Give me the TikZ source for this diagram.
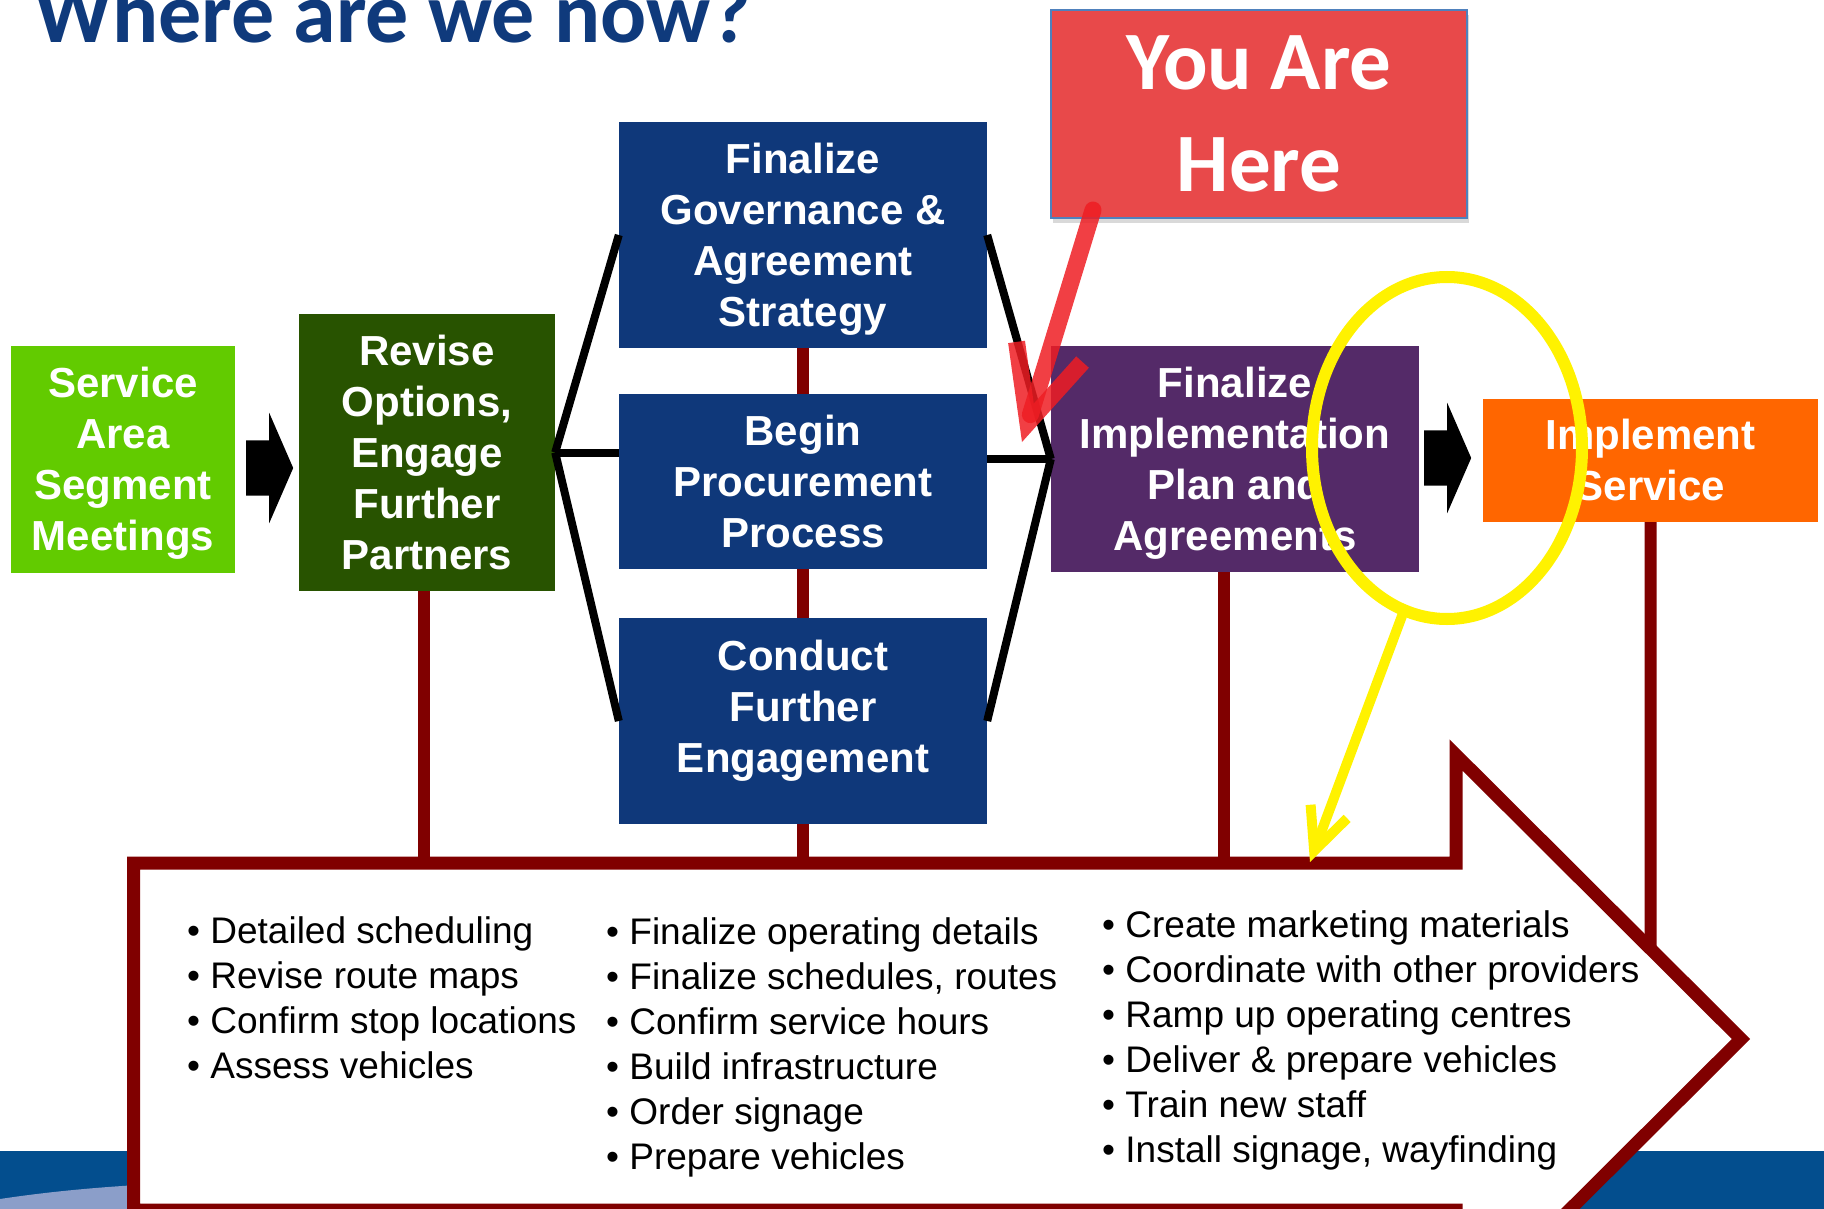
\documentclass[tikz,border=0pt]{standalone}
\usepackage{fontspec}
\setmainfont{Liberation Sans}
\newfontfamily\calfont{Carlito}
\definecolor{titleBlue}{HTML}{0F3A7C}
\definecolor{svcGreen}{HTML}{62CB00}
\definecolor{revGreen}{HTML}{285300}
\definecolor{govNavy}{HTML}{0F387A}
\definecolor{implPurple}{HTML}{542A68}
\definecolor{runOrange}{HTML}{FF6600}
\definecolor{hereRed}{HTML}{E8494A}
\definecolor{hereEdge}{HTML}{4F81BD}
\definecolor{markRed}{HTML}{EE1D23}
\definecolor{trunkRed}{HTML}{800000}
\definecolor{bandBlue}{HTML}{034E8E}
\definecolor{bandLight}{HTML}{8B9EC9}
\usetikzlibrary{arrows.meta,shapes.geometric,shapes.arrows,shadows}

\begin{document}
\begin{tikzpicture}[x=1pt,y=-1pt,
  stage/.style={rectangle,inner sep=0pt,text=white,align=center,text depth=1pt,font=\fontsize{42}{51}\selectfont\bfseries},
  push/.style={single arrow,fill=black,inner xsep=0pt,inner ysep=27.5pt,anchor=tail,minimum height=47pt,
    single arrow head extend=27.5pt,single arrow tip angle=133},
  link/.style={black,line width=8pt},
  trunk/.style={trunkRed,line width=12pt},
  item/.style={anchor=base west,inner sep=0pt,font=\fontsize{37}{45}\selectfont},
  cue/.style={markRed,opacity=.85,line width=17pt,line cap=round,-{Straight Barb[length=74pt,width=69pt]}},
  pointer/.style={yellow,line width=10pt,line cap=round,-{Straight Barb[length=42pt,width=39pt]}}]
  \useasboundingbox (0,0) rectangle (1824,1209);
  % footer band
  \fill[bandBlue] (0,1151) rectangle (1824,1209);
  \fill[bandLight] (0,1199) .. controls (60,1190) and (120,1185) .. (200,1182) -- (200,1209) -- (0,1209) -- cycle;
  % big arrow with the task lists
  \coordinate (shaft) at (0,863);
  \coordinate (notch) at (1456,755);
  \coordinate (point) at (1741,1039);
  \draw[trunkRed,line width=13pt,fill=white] (133.5,863) -- (1456,863) -- (notch) -- (point) -- (1456,1323) -- (1456,1210) -- (133.5,1210) -- cycle;
  % stages
  \node[stage,fill=svcGreen,minimum width=224pt,minimum height=227pt] (svc) at (123,459.5) {Service\\Area\\Segment\\Meetings};
  \node[stage,fill=revGreen,minimum width=256pt,minimum height=277pt] (rev) at (427,452.5) {Revise\\Options,\\Engage\\Further\\Partners};
  \node[stage,fill=govNavy,minimum width=368pt,minimum height=226pt] (gov) at (803,235) {Finalize\\Governance \&\\Agreement\\Strategy};
  \node[stage,fill=govNavy,minimum width=368pt,minimum height=175pt] (beg) at (803,481.5) {Begin\\Procurement\\Process};
  \node[stage,fill=govNavy,minimum width=368pt,minimum height=206pt,text depth=30pt] (con) at (803,721) {Conduct\\Further\\Engagement};
  \node[stage,fill=implPurple,minimum width=368pt,minimum height=226pt] (impl) at (1235,459) {Finalize\\Implementation\\Plan and\\Agreements};
  \node[stage,fill=runOrange,minimum width=335pt,minimum height=123pt] (run) at (1650.5,460.5) {Implement\\Service};
  \node[push] (go1) at (246,468) {};
  \node[push] (go2) at (1424,458) {};
  % parallel tasks
  \draw[link] (rev.east) -- (gov.west);
  \draw[link] (rev.east) -- (rev.east -| beg.west);
  \draw[link] (rev.east) -- (con.west);
  \draw[link] (gov.east) -- (impl.west);
  \draw[link] (impl.west -| beg.east) -- (impl.west);
  \draw[link] (con.east) -- (impl.west);
  % ties down to the arrow
  \draw[trunk] (gov.south) -- (beg.north);
  \draw[trunk] (beg.south) -- (con.north);
  \draw[trunk] (con.south) -- (con.south |- shaft);
  \draw[trunk] ([xshift=-3pt]rev.south) -- ([xshift=-3pt]rev.south |- shaft);
  \draw[trunk] ([xshift=-11pt]impl.south) -- ([xshift=-11pt]impl.south |- shaft);
  \draw[trunk] (run.south) -- (intersection of run.south--run.north and notch--point);
  % task lists
  \foreach \t [count=\i] in {Detailed scheduling,Revise route maps,Confirm stop locations,Assess vehicles}
    \node[item] (plan\i) at (187,{943+45*(\i-1)}) {\textbullet\ \t};
  \foreach \t [count=\i] in {Finalize operating details,{Finalize schedules, routes},Confirm service hours,Build infrastructure,Order signage,Prepare vehicles}
    \node[item] (build\i) at (606,{944+45*(\i-1)}) {\textbullet\ \t};
  \foreach \t [count=\i] in {Create marketing materials,Coordinate with other providers,Ramp up operating centres,{Deliver \& prepare vehicles},Train new staff,{Install signage, wayfinding}}
    \node[item] (launch\i) at (1102,{937+45*(\i-1)}) {\textbullet\ \t};
  % you are here
  \node[rectangle,fill=hereRed,draw=hereEdge,line width=2pt,inner sep=0pt,minimum width=416pt,minimum height=208pt,
    text=white,align=center,text depth=-6pt,font=\calfont\fontsize{83}{102}\selectfont\bfseries,
    drop shadow={opacity=.3,shadow xshift=2pt,shadow yshift=-5pt}] (here) at (1259,114) {You Are\\Here};
  \coordinate (hereTail) at (1093,210);
  \coordinate (hereTip) at (1022,442);
  \draw[cue] (hereTail) -- (hereTip);
  % highlight
  \node[ellipse,draw=yellow,line width=12pt,inner sep=0pt,minimum width=270pt,minimum height=342pt] (focus) at (1447,448) {};
  \coordinate (focusTip) at (1310,862);
  \draw[pointer] (focus.-105) -- (focusTip);
  % title
  \node[anchor=base west,inner sep=0pt,text=titleBlue,font=\calfont\fontsize{86}{100}\selectfont\bfseries] (title) at (34,43) {Where are we now?};
\end{tikzpicture}
\end{document}
